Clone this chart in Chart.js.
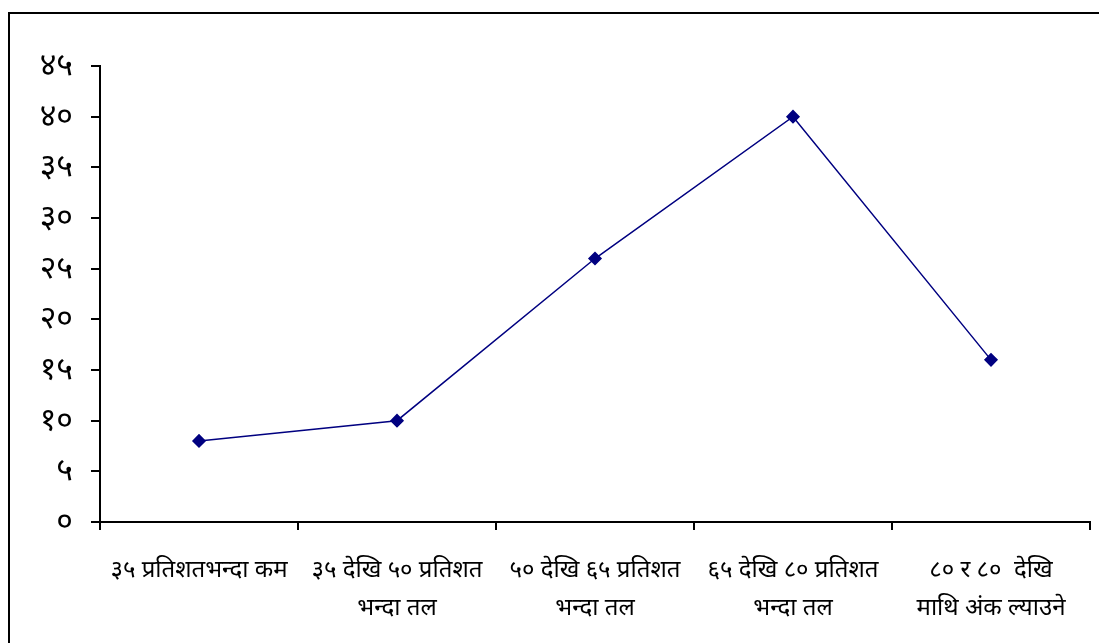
<!DOCTYPE html>
<html>
<head>
<meta charset="utf-8">
<script src="https://cdn.jsdelivr.net/npm/chart.js@4"></script>
<style>
  html, body { margin: 0; padding: 0; background: #fff; overflow: hidden; }
  #wrap { position: relative; width: 1099px; height: 643px; }
  #frame {
    position: absolute; left: 8px; top: 12px; width: 1200px; height: 800px;
    border: 2px solid #000; box-sizing: border-box;
  }
  canvas { position: absolute; left: 0; top: 0; }
</style>
</head>
<body>
<div id="wrap">
  <div id="frame"></div>
  <canvas id="chart" width="1099" height="643"></canvas>
</div>
<script>
'use strict';

// ── Data ──────────────────────────────────────────────────
const CATEGORIES = [
  '३५ प्रतिशतभन्दा कम',
  ['३५ देखि ५० प्रतिशत', 'भन्दा तल'],
  ['५० देखि ६५ प्रतिशत', 'भन्दा तल'],
  ['६५ देखि ८० प्रतिशत', 'भन्दा तल'],
  ['८० र ८०  देखि', 'माथि अंक ल्याउने'],
];
const VALUES = [8, 10, 26, 40, 16];
const Y_TICKS = ['०', '५', '१०', '१५', '२०', '२५', '३०', '३५', '४०', '४५'];

const FONT_FAMILY = "'Noto Sans', 'DejaVu Sans', sans-serif";
const NAVY = '#000080';

new Chart(document.getElementById('chart'), {
  type: 'line',
  data: {
    labels: CATEGORIES,
    datasets: [{
      data: VALUES,
      borderColor: NAVY,
      borderWidth: 1.5,
      backgroundColor: NAVY,
      pointStyle: 'rectRot',
      pointRadius: 6,
      pointBackgroundColor: NAVY,
      pointBorderColor: NAVY,
      tension: 0,
      fill: false,
    }]
  },
  options: {
    responsive: false,
    animation: false,
    layout: { padding: { top: 66, right: 9, left: 0, bottom: 0 } },
    plugins: { legend: { display: false }, tooltip: { enabled: false } },
    scales: {
      x: {
        offset: true,
        border: { color: '#000', width: 2 },
        grid: { offset: true, drawOnChartArea: false, color: '#000', lineWidth: 2, tickLength: 8 },
        ticks: {
          color: '#000', padding: 21, maxRotation: 0, autoSkip: false,
          font: { family: FONT_FAMILY, size: 24, lineHeight: 1.58 },
        },
        afterFit: s => { s.height = 121; },
      },
      y: {
        min: 0, max: 45,
        border: { color: '#000', width: 2 },
        grid: { drawOnChartArea: false, color: '#000', lineWidth: 2, tickLength: 9 },
        ticks: {
          stepSize: 5, color: '#000', padding: 18,
          font: { family: FONT_FAMILY, size: 32 },
          callback: (v) => Y_TICKS[v / 5],
        },
        afterFit: s => { s.width = 100; },
      },
    }
  }
});
</script>
</body>
</html>
